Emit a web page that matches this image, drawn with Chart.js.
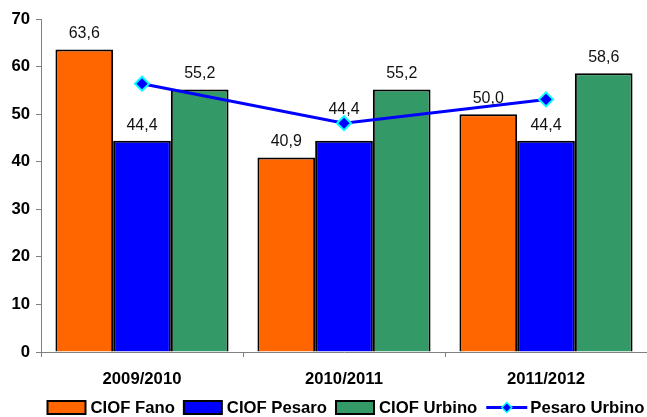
<!DOCTYPE html>
<html>
<head>
<meta charset="utf-8">
<script src="https://cdn.jsdelivr.net/npm/chart.js@4/dist/chart.umd.min.js"></script>
<style>
html,body{margin:0;padding:0;background:#fff;}
#wrap{width:647px;height:417px;position:relative;}
</style>
</head>
<body>
<div id="wrap"><canvas id="c" width="647" height="417"></canvas></div>
<script>
const categories = ["2009/2010", "2010/2011", "2011/2012"];
const ciofFano = [63.6, 40.9, 50.0];
const ciofPesaro = [44.4, 44.4, 44.4];
const ciofUrbino = [55.2, 55.2, 58.6];
const pesaroUrbino = [56.4, 48.1, 53.1];
const yTicks = [0, 10, 20, 30, 40, 50, 60, 70];

const FONT = "'Liberation Sans', Arial, sans-serif";
const BOLD = 16.7;

// keep the line markers from shrinking the plot area
Chart.LineController.prototype.getMaxOverflow = function () { return 0; };

const barLabels = {
  id: 'barLabels',
  afterDatasetsDraw(chart) {
    const ctx = chart.ctx;
    ctx.save();
    ctx.font = "16px " + FONT;
    ctx.fillStyle = "#111";
    ctx.textAlign = "center";
    ctx.textBaseline = "alphabetic";
    chart.data.datasets.forEach((ds, di) => {
      if (ds.type === 'line') return;
      const meta = chart.getDatasetMeta(di);
      meta.data.forEach((el, i) => {
        let dy = 11;
        if (di === 1 && i === 1) dy = 27;
        ctx.fillText(ds.data[i].toFixed(1).replace('.', ','), el.x, el.y - dy);
      });
    });
    ctx.restore();
  }
};

const customLegend = {
  id: 'customLegend',
  afterDraw(chart) {
    const ctx = chart.ctx;
    ctx.save();
    ctx.font = "bold " + BOLD + "px " + FONT;
    const symW = 38, lineSymW = 41, gapText = 5, gapItem = 9, yc = 407.5;
    let x = 47.5;
    chart.data.datasets.forEach(ds => {
      if (ds.type === 'line') {
        ctx.strokeStyle = ds.borderColor;
        ctx.lineWidth = 3;
        ctx.beginPath(); ctx.moveTo(x, yc); ctx.lineTo(x + lineSymW, yc); ctx.stroke();
        const cx = x + lineSymW / 2, r = 5;
        ctx.beginPath();
        ctx.moveTo(cx, yc - r); ctx.lineTo(cx + r, yc); ctx.lineTo(cx, yc + r); ctx.lineTo(cx - r, yc); ctx.closePath();
        ctx.fillStyle = ds.pointBackgroundColor; ctx.fill();
        ctx.strokeStyle = ds.pointBorderColor; ctx.lineWidth = 1.5; ctx.stroke();
        x += lineSymW;
        x += 3;
      } else {
        ctx.fillStyle = ds.backgroundColor;
        ctx.fillRect(x, yc - 6.5, symW, 13);
        ctx.strokeStyle = "#000"; ctx.lineWidth = 2;
        ctx.strokeRect(x, yc - 6.5, symW, 13);
        x += symW;
        x += gapText;
      }
      ctx.fillStyle = "#000";
      ctx.textAlign = "left";
      ctx.textBaseline = "middle";
      ctx.fillText(ds.label, x, yc + 1);
      x += ctx.measureText(ds.label).width + gapItem;
    });
    ctx.restore();
  }
};

new Chart(document.getElementById('c'), {
  type: 'bar',
  data: {
    labels: categories,
    datasets: [
      { label: 'CIOF Fano', data: ciofFano, backgroundColor: '#FF6600', borderColor: '#000', borderWidth: 2, order: 1 },
      { label: 'CIOF Pesaro', data: ciofPesaro, backgroundColor: '#0000FF', borderColor: '#000', borderWidth: 2, order: 1 },
      { label: 'CIOF Urbino', data: ciofUrbino, backgroundColor: '#339966', borderColor: '#000', borderWidth: 2, order: 1 },
      { type: 'line', label: 'Pesaro Urbino', data: pesaroUrbino, borderColor: '#0000FF', borderWidth: 3,
        pointStyle: 'rectRot', pointRadius: 7, pointBackgroundColor: '#0000FF', pointBorderColor: '#00FFFF',
        pointBorderWidth: 2, fill: false, tension: 0, order: 0, clip: false }
    ]
  },
  options: {
    responsive: false,
    animation: false,
    events: [],
    layout: { padding: { top: 19, right: 0, bottom: 0, left: 0 } },
    datasets: { bar: { categoryPercentage: 0.857, barPercentage: 1.0 } },
    plugins: { legend: { display: false }, tooltip: { enabled: false } },
    scales: {
      x: {
        offset: true,
        grid: { display: true, offset: true, drawOnChartArea: false, drawTicks: true, tickLength: 5, color: '#808080' },
        border: { display: true, color: '#808080', width: 1 },
        ticks: { color: '#000', font: { family: FONT, size: BOLD, weight: 'bold' }, padding: 12, maxRotation: 0 },
        afterFit(s) { s.height = 65; s.paddingLeft = 0; s.paddingRight = 0; }
      },
      y: {
        min: 0, max: 70,
        afterBuildTicks(s) { s.ticks = yTicks.map(v => ({ value: v })); },
        grid: { display: true, drawOnChartArea: false, drawTicks: true, tickLength: 5, color: '#808080' },
        border: { display: true, color: '#808080', width: 1 },
        ticks: { color: '#000', font: { family: FONT, size: BOLD, weight: 'bold' }, padding: 6 },
        afterFit(s) { s.width = 41; }
      }
    }
  },
  plugins: [barLabels, customLegend]
});
</script>
</body>
</html>
